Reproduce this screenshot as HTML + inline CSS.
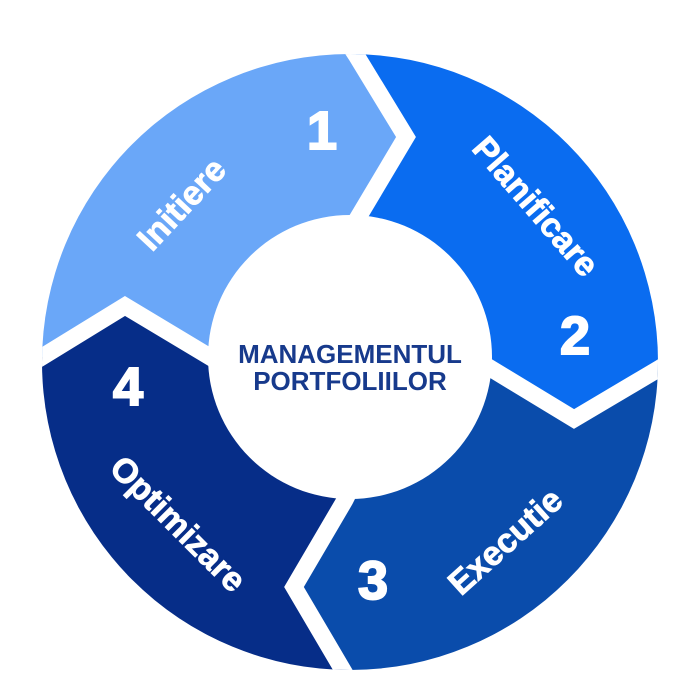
<!DOCTYPE html>
<html><head><meta charset="utf-8"><style>
html,body{margin:0;padding:0;background:#fff;}
svg{display:block;}
text{font-family:"Liberation Sans",sans-serif;font-weight:bold;fill:#fff;}
</style></head><body>
<svg width="700" height="700" viewBox="0 0 700 700">
<defs><clipPath id="c"><circle cx="350" cy="362" r="308"/></clipPath></defs>
<g clip-path="url(#c)">
<polygon fill="#6aa7f8" points="210,357 125,306 42,357 0,357 0,0 356,0 356,55 406,137 356,221 350,357"/>
<polygon fill="#0a6cf0" points="356,0 700,0 700,368 660,368 574,419 490,368 350,357 356,221 406,137 356,55"/>
<polygon fill="#0a4cab" points="700,368 700,700 344,700 344,672 294,587 345,500 350,357 490,368 574,419 660,368"/>
<polygon fill="#062d88" points="0,357 42,357 125,306 210,357 350,357 345,500 294,587 344,672 344,700 0,700"/>
<g fill="none" stroke="#fff" stroke-width="17" stroke-linejoin="miter">
<polyline points="330,15 356,55 406,137 356,221 340,250"/>
<polyline points="0,382 42,357 125,306 210,357 240,375"/>
<polyline points="460,350 490,368 574,419 660,368 700,344"/>
<polyline points="360,470 345,500 294,587 344,672 360,700"/>
</g>
</g>
<circle cx="350" cy="357" r="142" fill="#fff"/>
<g stroke="#fff" stroke-width="2">
<text x="322" y="149" font-size="54" text-anchor="middle">1</text>
<text x="575" y="354" font-size="54" text-anchor="middle">2</text>
<text x="373" y="599" font-size="54" text-anchor="middle">3</text>
<text x="128" y="405" font-size="54" text-anchor="middle">4</text>
</g>
<g stroke="#fff" stroke-width="0.8">
<text font-size="34" text-anchor="middle" transform="translate(190,212) rotate(-47)">Initiere</text>
<text font-size="34" text-anchor="middle" transform="translate(527,214) rotate(49)">Planificare</text>
<text font-size="34" text-anchor="middle" transform="translate(513,550) rotate(-42)">Executie</text>
<text font-size="34" text-anchor="middle" transform="translate(170,532) rotate(45)">Optimizare</text>
</g>
<text x="350" y="363" font-size="26" text-anchor="middle" style="fill:#173a8c">MANAGEMENTUL</text>
<text x="350" y="390" font-size="26" text-anchor="middle" style="fill:#173a8c">PORTFOLIILOR</text>
</svg>
</body></html>
